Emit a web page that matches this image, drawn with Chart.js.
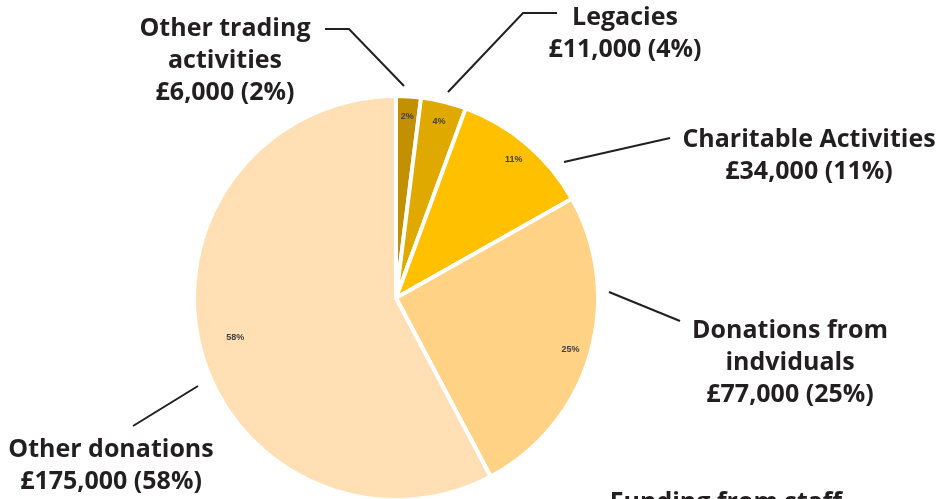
<!DOCTYPE html>
<html>
<head>
<meta charset="utf-8">
<script src="https://cdn.jsdelivr.net/npm/chart.js@4"></script>
<style>
  html, body { margin: 0; padding: 0; background: #fff; }
  #wrap { width: 937px; height: 499px; position: relative; overflow: hidden; }
</style>
</head>
<body>
<div id="wrap"><canvas id="chart" width="937" height="499"></canvas></div>
<script>
const categories = ['Other trading activities', 'Legacies', 'Charitable Activities', 'Donations from indviduals', 'Funding from staff', 'Other donations'];
const amounts = [6000, 11000, 34000, 77000, 0, 175000];
const percents = [2, 4, 11, 25, 0, 58];
const sliceColours = ['#C29000', '#E0A900', '#FFC000', '#FFD285', '#FFE0B5', '#FFDFB3'];

// outer callout text, one entry per category (lines of text)
const calloutText = [
    ['Other trading', 'activities', '£6,000 (2%)'],
    ['Legacies', '£11,000 (4%)'],
    ['Charitable Activities', '£34,000 (11%)'],
    ['Donations from', 'indviduals', '£77,000 (25%)'],
    ['Funding from staff'],
    ['Other donations', '£175,000 (58%)']
];

// where each callout sits, and its leader line (pixels)
const calloutLayout = [
    { x: 225, y: 29, leader: [[404, 86], [349, 29], [325, 29]] },
    { x: 625, y: 18, leader: [[448, 92], [523, 13], [557, 13]] },
    { x: 809, y: 140, leader: [[564, 162], [670, 138]] },
    { x: 790, y: 331, leader: [[609, 292], [680, 321]] },
    { x: 726, y: 503, leader: null },
    { x: 111, y: 450, leader: [[198, 386], [133, 426]] }
];

const calloutPlugin = {
    id: 'callouts',
    afterDraw(chart) {
        const ctx = chart.ctx;
        const meta = chart.getDatasetMeta(0);
        ctx.save();

        // percentage labels inside the slices
        ctx.fillStyle = '#404040';
        ctx.font = 'bold 9px "Liberation Sans", Arial, sans-serif';
        ctx.textAlign = 'center';
        ctx.textBaseline = 'middle';
        meta.data.forEach((arc, i) => {
            if (!percents[i]) return;
            const mid = (arc.startAngle + arc.endAngle) / 2;
            const r = arc.outerRadius * (percents[i] > 50 ? 0.82 : 0.9);
            ctx.fillText(percents[i] + '%', arc.x + Math.cos(mid) * r, arc.y + Math.sin(mid) * r);
        });

        // leader lines
        ctx.strokeStyle = '#231f20';
        ctx.lineWidth = 2;
        calloutLayout.forEach(l => {
            if (!l.leader) return;
            ctx.beginPath();
            ctx.moveTo(l.leader[0][0], l.leader[0][1]);
            for (let k = 1; k < l.leader.length; k++) ctx.lineTo(l.leader[k][0], l.leader[k][1]);
            ctx.stroke();
        });

        // callout text
        ctx.fillStyle = '#231f20';
        ctx.font = 'bold 25px "Open Sans", "Noto Sans", sans-serif';
        calloutText.forEach((lines, i) => {
            const l = calloutLayout[i];
            lines.forEach((t, k) => ctx.fillText(t, l.x, l.y + k * 32));
        });
        ctx.restore();
    }
};

new Chart(document.getElementById('chart'), {
    type: 'pie',
    data: {
        labels: categories,
        datasets: [{
            data: amounts,
            backgroundColor: sliceColours,
            borderColor: '#ffffff',
            borderWidth: 4,
            radius: 202
        }]
    },
    options: {
        responsive: false,
        animation: false,
        layout: { padding: { left: 0, right: 145, top: 97, bottom: 0 } },
        plugins: {
            legend: { display: false },
            tooltip: { enabled: false }
        }
    },
    plugins: [calloutPlugin]
});
</script>
</body>
</html>
